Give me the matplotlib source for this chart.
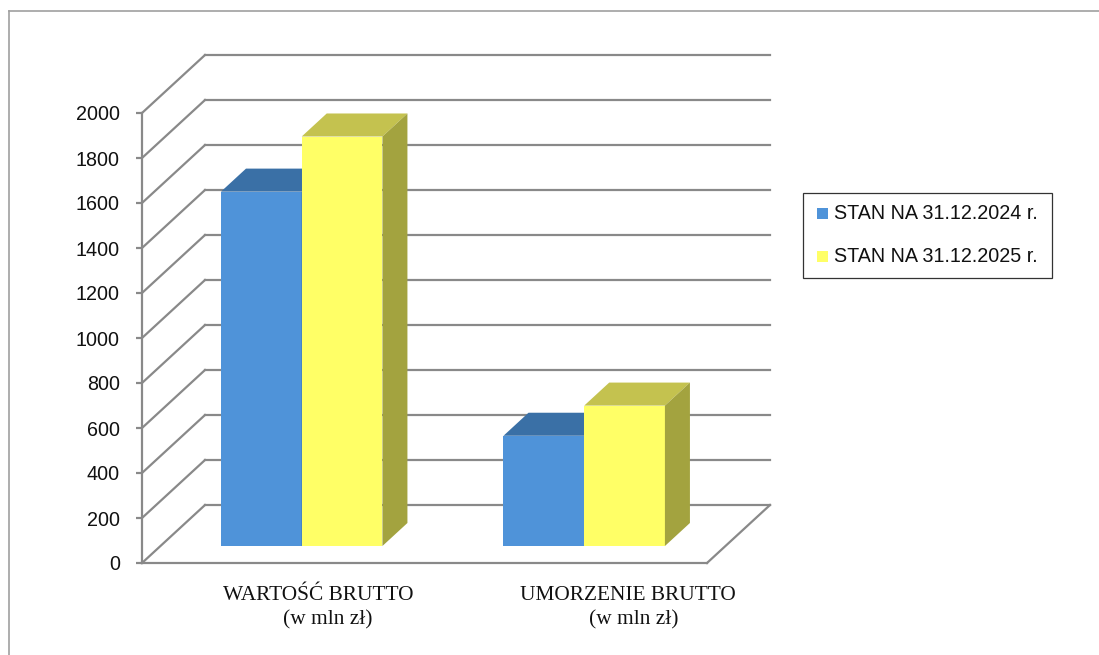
import matplotlib
matplotlib.use("Agg")
import matplotlib.pyplot as plt
from matplotlib.patches import Polygon, Rectangle
from matplotlib.lines import Line2D

# ---------------- data ----------------
categories = ["WARTOŚĆ BRUTTO", "UMORZENIE BRUTTO"]
category_units = ["(w mln zł)", "(w mln zł)"]
series_names = ["STAN NA 31.12.2024 r.", "STAN NA 31.12.2025 r."]
values_2024 = [1575, 490]
values_2025 = [1820, 624]
y_ticks = [0, 200, 400, 600, 800, 1000, 1200, 1400, 1600, 1800, 2000]

# ---------------- style ----------------
front_colors = ["#4F93D9", "#FFFF66"]
top_colors = ["#3A70A6", "#C4C24F"]
side_colors = ["#35659A", "#A3A33F"]
grid_color = "#898989"
sans = "Liberation Sans"
serif = "Liberation Serif"

W, H = 1099, 655
fig = plt.figure(figsize=(W / 100, H / 100), dpi=100)
fig.patch.set_facecolor("white")

# front plane of the 3D box in pixels
px_left, px_right, px_top, px_bottom = 142, 707, 113, 563
ax = fig.add_axes([px_left / W, (H - px_bottom) / H,
                   (px_right - px_left) / W, (px_bottom - px_top) / H])
ncat = len(categories)
ymax = y_ticks[-1]
ax.set_xlim(0, ncat)
ax.set_ylim(0, ymax)
ax.set_facecolor("none")

# depth offset (full depth of the box) in data units
DX = 63 / (px_right - px_left) * ncat
DY = 58 / (px_bottom - px_top) * ymax

lw = 1.6
# back wall gridlines and left wall diagonals
for v in y_ticks:
    ax.add_line(Line2D([DX, ncat + DX], [v + DY, v + DY], color=grid_color,
                       lw=lw, clip_on=False, zorder=1))
    ax.add_line(Line2D([0, DX], [v, v + DY], color=grid_color,
                       lw=lw, clip_on=False, zorder=1))
# floor right edge
ax.add_line(Line2D([ncat, ncat + DX], [0, DY], color=grid_color,
                   lw=lw, clip_on=False, zorder=1))

for s in ["top", "right"]:
    ax.spines[s].set_visible(False)
for s in ["left", "bottom"]:
    ax.spines[s].set_color(grid_color)
    ax.spines[s].set_linewidth(lw)
    ax.spines[s].set_zorder(2)
ax.set_yticks(y_ticks)
ax.set_yticklabels([str(t) for t in y_ticks], fontfamily=sans, fontsize=14.2,
                   color="#111111")
ax.tick_params(axis="y", length=4, width=lw, color=grid_color, pad=12)
ax.set_xticks([])

# bars
series = [values_2024, values_2025]
nser = len(series)
gap_ratio = 1.5
w = 1 / (nser + gap_ratio)
z0, z1 = 0.293, 0.69
ox, oy = z0 * DX, z0 * DY
ddx, ddy = (z1 - z0) * DX, (z1 - z0) * DY
z = 3
for i in range(ncat):
    for j, vals in enumerate(series):
        v = vals[i]
        x0 = i + gap_ratio * w / 2 + j * w + ox
        x1 = x0 + w
        yb, yt = oy, oy + v
        ax.add_patch(Rectangle((x0, yb), w, v, facecolor=front_colors[j],
                               edgecolor="none", clip_on=False, zorder=z))
        ax.add_patch(Polygon([(x0, yt), (x1, yt), (x1 + ddx, yt + ddy),
                              (x0 + ddx, yt + ddy)], closed=True,
                             facecolor=top_colors[j], edgecolor="none",
                             clip_on=False, zorder=z))
        ax.add_patch(Polygon([(x1, yb), (x1, yt), (x1 + ddx, yt + ddy),
                              (x1 + ddx, yb + ddy)], closed=True,
                             facecolor=side_colors[j], edgecolor="none",
                             clip_on=False, zorder=z))
        z += 1

# category labels (pixel layout)
label_px = [(318, 595, 328, 620), (628, 595, 634, 620)]
for (lx1, ly1, lx2, ly2), name, unit in zip(label_px, categories, category_units):
    fig.text(lx1 / W, 1 - ly1 / H, name, ha="center", va="center",
             fontfamily=serif, fontsize=15.4, color="#111111")
    fig.text(lx2 / W, 1 - ly2 / H, unit, ha="center", va="center",
             fontfamily=serif, fontsize=15.4, color="#111111")

# legend (manual, pixel layout)
lg_l, lg_t, lg_r, lg_b = 803, 193, 1052, 278
fig.patches.append(Rectangle((lg_l / W, 1 - lg_b / H), (lg_r - lg_l) / W,
                             (lg_b - lg_t) / H, transform=fig.transFigure,
                             facecolor="white", edgecolor="#333333", lw=0.9))
row_y = [213, 257]
msz = 11
for j, name in enumerate(series_names):
    cy = row_y[j]
    fig.patches.append(Rectangle((817 / W, 1 - (cy + msz / 2) / H), msz / W,
                                 msz / H, transform=fig.transFigure,
                                 facecolor=front_colors[j], edgecolor="none"))
    fig.text(834 / W, 1 - cy / H, name, ha="left", va="center",
             fontfamily=sans, fontsize=14.2, color="#111111")

# figure border (top and left)
fig.lines.append(Line2D([9 / W, 1], [1 - 11 / H, 1 - 11 / H],
                        transform=fig.transFigure, color="#A0A0A0", lw=1.2))
fig.lines.append(Line2D([9 / W, 9 / W], [0, 1 - 11 / H],
                        transform=fig.transFigure, color="#A0A0A0", lw=1.2))

fig.savefig("out.png", dpi=100)
